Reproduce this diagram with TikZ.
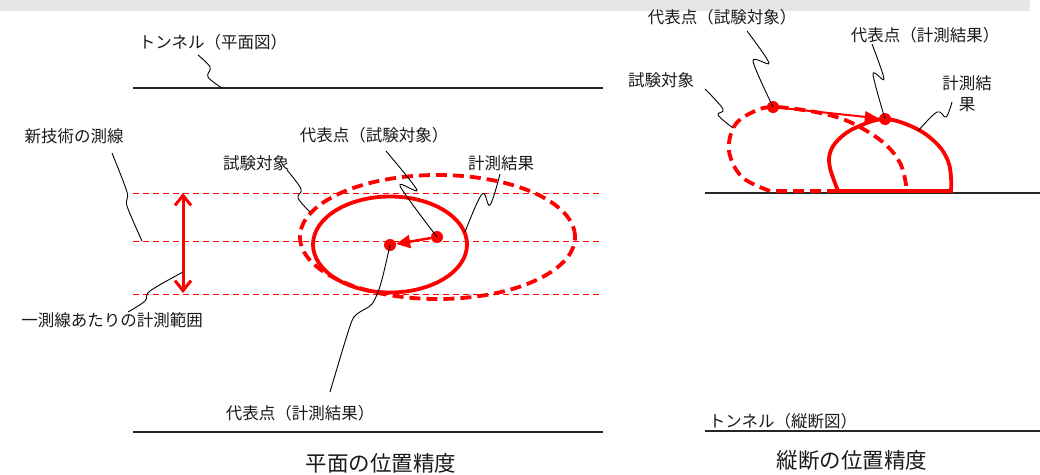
\documentclass[tikz,border=0pt]{standalone}
\usepackage{fontspec}
\newfontfamily\jp{Noto Sans CJK JP}
\usetikzlibrary{arrows.meta}
\definecolor{barg}{RGB}{230,230,230}
\definecolor{myred}{RGB}{255,0,0}
\begin{document}
\begin{tikzpicture}[x=1pt,y=-1pt,
  lbl/.style={font=\jp\fontsize{16.5}{21}\selectfont, inner sep=0pt, text=black!90},
  ttl/.style={font=\jp\fontsize{21.5}{24}\selectfont, inner sep=0pt, text=black!90},
  leader/.style={draw=black, line width=0.9pt},
  tunnel/.style={draw=black!85, line width=1.4pt},
  rangeline/.style={draw=myred, line width=0.9pt, dash pattern=on 6pt off 4pt},
  bigdash/.style={draw=myred, line width=3.8pt, dash pattern=on 11pt off 6pt},
  bigsolid/.style={draw=myred, line width=3.8pt},
  rdot/.style={circle, fill=myred, inner sep=0pt, minimum size=12pt},
  vec/.style={draw=myred, line width=2.5pt, -{Triangle[length=14pt,width=13pt]}},
  spanarrow/.style={draw=myred, line width=3pt, {Straight Barb[length=10pt,width=16pt]}-{Straight Barb[length=10pt,width=16pt]}},
]
\useasboundingbox (0,0) rectangle (1040,474);
\fill[barg] (0,0) rectangle (1030,11);

% ---------------- left panel (plan) ----------------
\coordinate (tuL1) at (133,88);  \coordinate (tuR1) at (603,88);
\coordinate (tuL2) at (133,432); \coordinate (tuR2) at (603,432);
\draw[tunnel] (tuL1) -- (tuR1);
\draw[tunnel] (tuL2) -- (tuR2);

\coordinate (r1L) at (133,193); \coordinate (r1R) at (603,193);
\coordinate (r2L) at (133,241); \coordinate (r2R) at (603,241);
\coordinate (r3L) at (133,294); \coordinate (r3R) at (603,294);
\draw[rangeline] (r1L) -- (r1R);
\draw[rangeline] (r2L) -- (r2R);
\draw[rangeline] (r3L) -- (r3R);

\coordinate (spanT) at (183,193); \coordinate (spanB) at (183,293);
\draw[spanarrow] (spanT) -- (spanB);

\draw[bigdash] (437.5,237) ellipse [x radius=137.5pt, y radius=62pt];
\draw[bigsolid] (390,244.5) ellipse [x radius=77pt, y radius=48pt];

\node[rdot] (A) at (437,237) {};
\node[rdot] (B) at (390,245) {};
\draw[vec] (A) -- (B);

% labels
\node[lbl] (Ltun) at (213,42) {トンネル（平面図）};
\node[lbl] (Lline) at (74,136) {新技術の測線};
\node[lbl] (Lrange) at (112,320) {一測線あたりの計測範囲};
\node[lbl] (Lobj) at (256,163) {試験対象};
\node[lbl] (LrepO) at (374,135) {代表点（試験対象）};
\node[lbl] (Lres) at (501,163) {計測結果};
\node[lbl] (LrepR) at (300,413) {代表点（計測結果）};
\node[ttl] (Ttl1) at (381,463) {平面の位置精度};

% leaders
\coordinate (s1) at (198,55);  \coordinate (e1) at (222,88);
\draw[leader] plot[smooth, tension=0.6] coordinates {(s1) (210,67) (208,77) (e1)};
\coordinate (s2) at (112,153); \coordinate (e2) at (142,241);
\draw[leader] plot[smooth, tension=0.5] coordinates {(s2) (127,192) (127,206) (e2)};
\coordinate (s3) at (128,312); \coordinate (e3) at (183,272);
\draw[leader] plot[smooth, tension=0.6] coordinates {(s3) (145,301) (150,291) (e3)};
\coordinate (s4) at (287,170); \coordinate (e4) at (310,212);
\draw[leader] plot[smooth, tension=0.6] coordinates {(s4) (301,189) (298,198) (e4)};
\coordinate (s5) at (386,151);
\draw[leader] plot[smooth, tension=0.5] coordinates {(s5) (417,190) (400,186) (A)};
\coordinate (s6) at (500,174); \coordinate (e6) at (465,232);
\draw[leader] plot[smooth, tension=0.6] coordinates {(s6) (490,205) (482,194) (e6)};
\coordinate (s7) at (330,392);
\draw[leader] plot[smooth, tension=0.5] coordinates {(B) (381,283) (372,304) (357,314) (350,326) (s7)};

% ---------------- right panel (profile) ----------------
\coordinate (gL) at (705,193); \coordinate (gR) at (1040,193);
\draw[tunnel] (gL) -- (gR);
\coordinate (g2L) at (705,431); \coordinate (g2R) at (1040,431);
\draw[tunnel] (g2L) -- (g2R);

\draw[bigdash] plot[smooth, tension=0.6] coordinates {(770,191) (742,177) (729,151) (735,125) (755,111) (773,107) (803,110) (833,116) (858,126) (885,144) (901,165) (907,191)} -- cycle;
\draw[bigsolid] plot[smooth, tension=0.6] coordinates {(838,191) (830,168) (830,153) (838,140) (855,128) (885,119) (917,129) (938,145) (948,161) (951,177) (951,191)} -- cycle;

\node[rdot] (C) at (773,107) {};
\node[rdot] (D) at (885,119) {};
\draw[vec, line width=2pt, -{Triangle[length=14pt,width=11pt]}] (C) -- (D);

\node[lbl] (RrepO) at (722,17) {代表点（試験対象）};
\node[lbl] (RrepR) at (925,35) {代表点（計測結果）};
\node[lbl] (Robj) at (661,80) {試験対象};
\node[lbl, align=center] (Rres) at (967,94) {計測結\\果};
\node[lbl] (Rtun) at (783,421) {トンネル（縦断図）};
\node[ttl] (Ttl2) at (852,460) {縦断の位置精度};

\coordinate (t1) at (747,31);
\draw[leader] plot[smooth, tension=0.5] coordinates {(t1) (769,63) (753,61) (C)};
\coordinate (t2) at (872,44);
\draw[leader] plot[smooth, tension=0.5] coordinates {(t2) (884,79) (873,74) (D)};
\coordinate (t3) at (705,89); \coordinate (u3) at (733,128);
\draw[leader] plot[smooth, tension=0.6] coordinates {(t3) (723,109) (718,115) (u3)};
\coordinate (t4) at (952,102); \coordinate (u4) at (918,131);
\draw[leader] plot[smooth, tension=0.6] coordinates {(t4) (946,117) (937,112) (u4)};
\end{tikzpicture}
\end{document}
